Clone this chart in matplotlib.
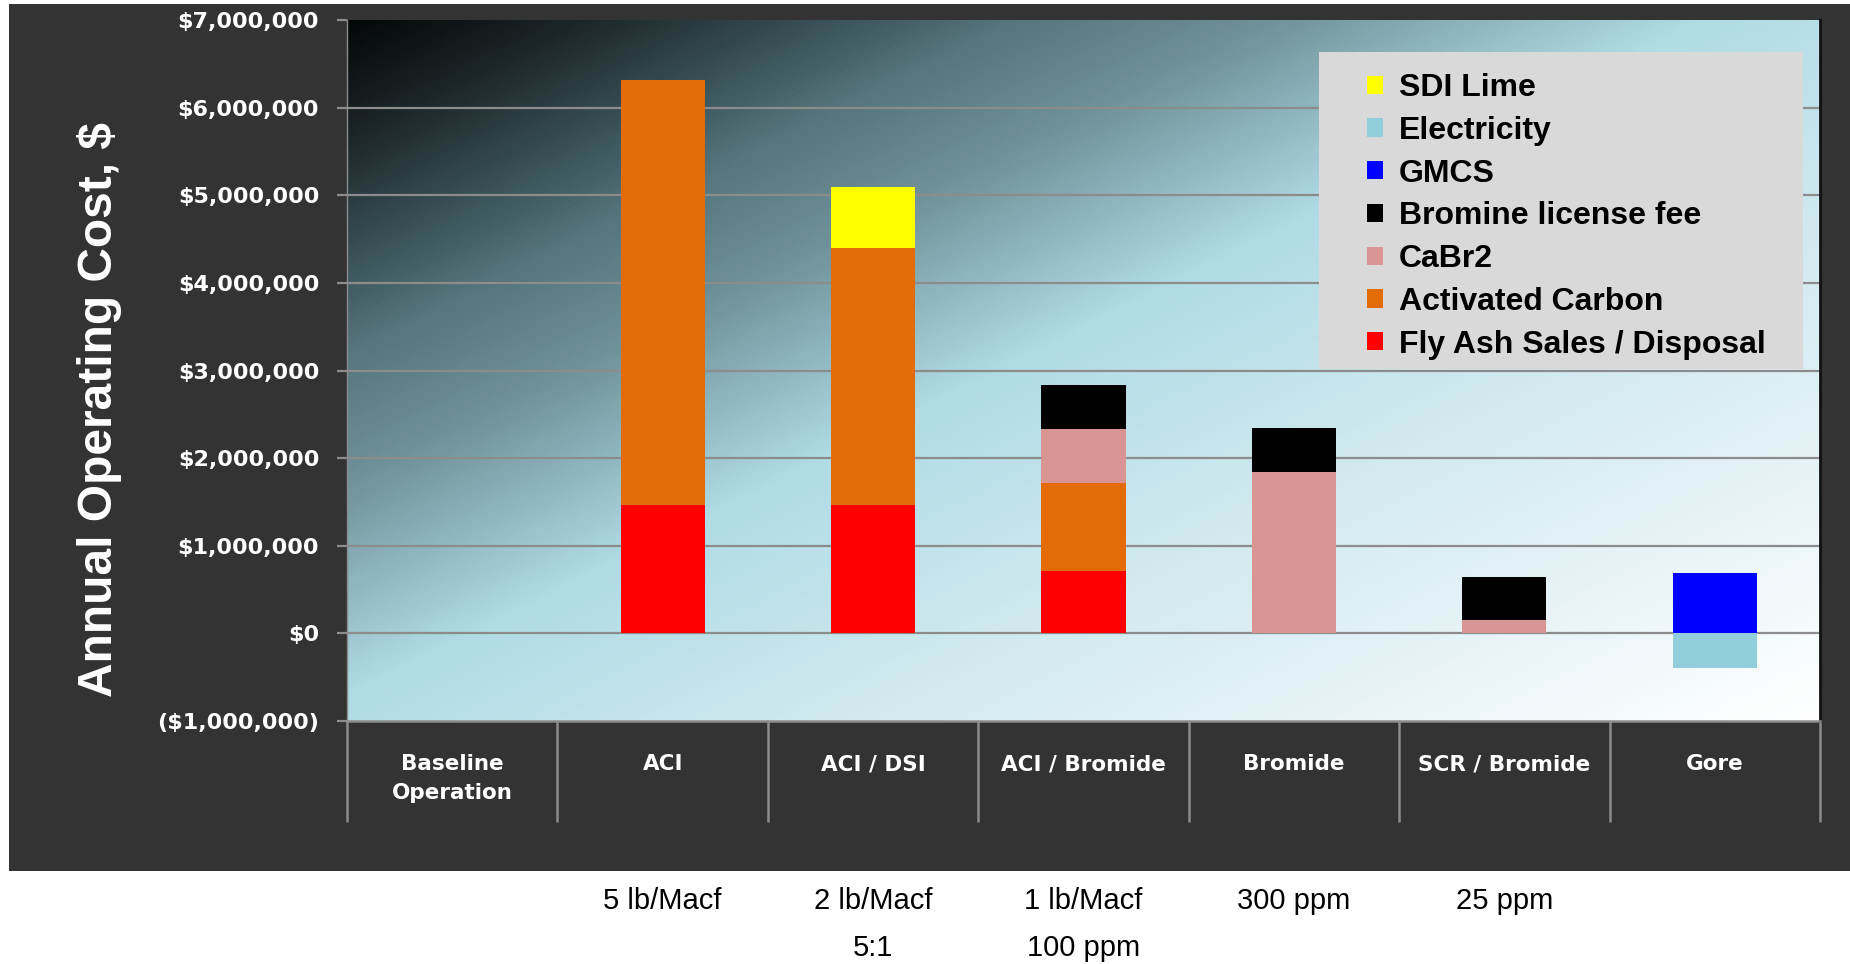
"""Annual operating cost by mercury-control option — stacked bar chart."""
import numpy as np
import matplotlib
matplotlib.use("Agg")
import matplotlib.pyplot as plt
from matplotlib.colors import LinearSegmentedColormap
from matplotlib.patches import Patch, Rectangle
from matplotlib.ticker import FuncFormatter, FixedLocator

# ── data ────────────────────────────────────────────────────────────────
categories = ["Baseline\nOperation", "ACI", "ACI / DSI", "ACI / Bromide",
              "Bromide", "SCR / Bromide", "Gore"]
sub_line1 = ["", "5 lb/Macf", "2 lb/Macf", "1 lb/Macf", "300 ppm", "25 ppm", ""]
sub_line2 = ["", "", "5:1", "100 ppm", "", "", ""]

fly_ash = [0, 1.47e6, 1.47e6, 0.71e6, 0, 0, 0]
activated_carbon = [0, 4.85e6, 2.93e6, 1.01e6, 0, 0, 0]
cabr2 = [0, 0, 0, 0.61e6, 1.84e6, 0.15e6, 0]
bromine_fee = [0, 0, 0, 0.50e6, 0.50e6, 0.49e6, 0]
gmcs = [0, 0, 0, 0, 0, 0, 0.69e6]
electricity = [0, 0, 0, 0, 0, 0, -0.39e6]
sdi_lime = [0, 0, 0.69e6, 0, 0, 0, 0]

y_ticks = [-1e6, 0, 1e6, 2e6, 3e6, 4e6, 5e6, 6e6, 7e6]

# ── style ───────────────────────────────────────────────────────────────
PANEL = "#333333"
GRID = "#8c8c8c"
LEGEND_BG = "#d9d9d9"
COLORS = {
    "SDI Lime": "#ffff00",
    "Electricity": "#92cddc",
    "GMCS": "#0000ff",
    "Bromine license fee": "#000000",
    "CaBr2": "#d99594",
    "Activated Carbon": "#e36c09",
    "Fly Ash Sales / Disposal": "#ff0000",
}
BOLD = ["DejaVu Sans"]
ARIAL = ["Liberation Sans", "DejaVu Sans"]
NARROW = ["Liberation Sans Narrow", "Liberation Sans", "DejaVu Sans"]

W, H = 1850, 964
fig = plt.figure(figsize=(W / 100, H / 100), dpi=100, facecolor="white")

# dark slide panel behind the chart
fig.patches.append(Rectangle((9 / W, 1 - 871 / H), 1 - 9 / W, (871 - 4) / H,
                             transform=fig.transFigure, facecolor=PANEL,
                             edgecolor="none", zorder=-10))

ax = fig.add_axes([347 / W, 1 - 721 / H, (1820 - 347) / W, (721 - 20) / H])
ax.set_facecolor("none")

# diagonal gradient background (dark top-left → light cyan → white bottom-right)
cmap = LinearSegmentedColormap.from_list("bg", [
    (0.00, "#050808"), (0.08, "#1c2628"), (0.18, "#3f5a60"), (0.23, "#56757c"),
    (0.32, "#6f9199"), (0.47, "#b0dbe5"), (0.65, "#cfe9ef"), (0.85, "#eaf5f8"),
    (1.00, "#ffffff")])
px_w, px_h = 1473, 700
xx, yy = np.meshgrid(np.linspace(0, px_w, 400), np.linspace(0, px_h, 200))
grad = (xx + 2 * yy) / (px_w + 2 * px_h)
ax.imshow(grad, cmap=cmap, vmin=0, vmax=1, extent=[0, 1, 0, 1],
          transform=ax.transAxes, aspect="auto", origin="upper", zorder=0)

# ── bars ────────────────────────────────────────────────────────────────
x = np.arange(len(categories))
bw = 0.40
bottom = np.zeros(len(categories))
for name, vals in [("Fly Ash Sales / Disposal", fly_ash),
                   ("Activated Carbon", activated_carbon),
                   ("CaBr2", cabr2),
                   ("Bromine license fee", bromine_fee),
                   ("GMCS", gmcs),
                   ("SDI Lime", sdi_lime)]:
    v = np.array(vals)
    ax.bar(x, v, bw, bottom=bottom, color=COLORS[name], edgecolor="none", zorder=3)
    bottom += v
ax.bar(x, electricity, bw, color=COLORS["Electricity"], edgecolor="none", zorder=3)

# ── axes ────────────────────────────────────────────────────────────────
ax.set_xlim(-0.5, len(categories) - 0.5)
ax.set_ylim(-1e6, 7e6)
ax.yaxis.set_major_locator(FixedLocator(y_ticks))


def money(v, _pos):
    if v < 0:
        return f"(${abs(v):,.0f})"
    return f"${v:,.0f}"


ax.yaxis.set_major_formatter(FuncFormatter(money))
for v in y_ticks[1:-1]:
    ax.axhline(v, color=GRID, lw=1.6, zorder=1)

ax.tick_params(axis="y", colors=GRID, length=7, width=1.6, pad=13,
               labelcolor="white", labelsize=16)
for lab in ax.get_yticklabels():
    lab.set_fontweight("bold")
    lab.set_family(BOLD)

# category labels + divider ticks below the axis
ax.set_xticks(x)
ax.set_xticklabels(categories, color="white", fontsize=15.5, fontweight="bold",
                   family=BOLD, linespacing=1.55)
ax.tick_params(axis="x", which="major", length=0, pad=24)
ax.set_xticks(np.arange(-0.5, len(categories)), minor=True)
ax.tick_params(axis="x", which="minor", length=73, width=1.8, color=GRID)

ax.spines["top"].set_visible(False)
ax.spines["bottom"].set_color(GRID)
ax.spines["bottom"].set_linewidth(1.8)
ax.spines["left"].set_color(GRID)
ax.spines["left"].set_linewidth(1.0)
ax.spines["right"].set_color("#111111")
ax.spines["right"].set_linewidth(2.0)

fig.text(100 / W, 1 - 410 / H, "Annual Operating Cost, $", rotation=90,
         ha="center", va="center", color="white", fontsize=34.5,
         fontweight="bold", family=ARIAL)

# sub-labels under the dark panel
for i in range(len(categories)):
    xf = (347 + (i + 0.5) * (1473 / len(categories))) / W
    if sub_line1[i]:
        fig.text(xf, 1 - 901 / H, sub_line1[i], ha="center", va="center",
                 fontsize=21, family=NARROW, color="black")
    if sub_line2[i]:
        fig.text(xf, 1 - 948 / H, sub_line2[i], ha="center", va="center",
                 fontsize=21, family=NARROW, color="black")

# legend: grey box drawn separately, entries placed on top of it
fig.patches.append(Rectangle((1319 / W, 1 - 369 / H), (1803 - 1319) / W,
                             (369 - 52) / H, transform=fig.transFigure,
                             facecolor=LEGEND_BG, edgecolor="none", zorder=4))
handles = [Patch(facecolor=c, edgecolor="none", label=n) for n, c in COLORS.items()]
leg = fig.legend(handles=handles, loc="upper left",
                 bbox_to_anchor=(1367 / W, 1 - 73 / H),
                 bbox_transform=fig.transFigure, frameon=False,
                 prop={"family": ARIAL, "weight": "bold", "size": 23},
                 handlelength=0.5, handleheight=0.5, handletextpad=0.5,
                 labelspacing=0.4, borderpad=0, borderaxespad=0)
leg.set_zorder(5)

fig.savefig("out.png", dpi=100, facecolor="white")
